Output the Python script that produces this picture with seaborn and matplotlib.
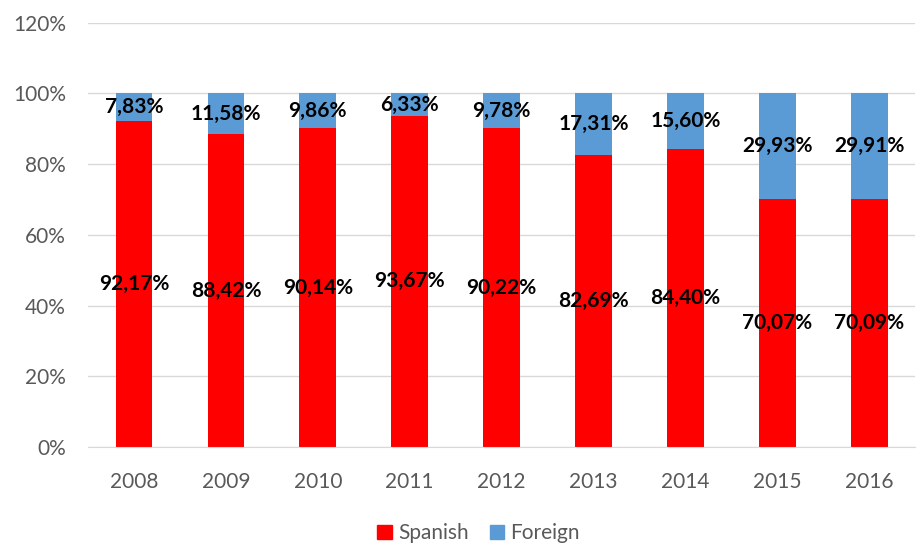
import seaborn as sns
import matplotlib.pyplot as plt
import pandas as pd
from matplotlib.patches import Patch

years = ["2008", "2009", "2010", "2011", "2012", "2013", "2014", "2015", "2016"]
spanish = [92.17, 88.42, 90.14, 93.67, 90.22, 82.69, 84.40, 70.07, 70.09]
foreign = [7.83, 11.58, 9.86, 6.33, 9.78, 17.31, 15.60, 29.93, 29.91]

red = "#FF0000"
blue = "#5B9BD5"

df = pd.DataFrame({"year": years, "spanish": spanish, "foreign": foreign})
df["total"] = df["spanish"] + df["foreign"]

sns.set_style("white")
plt.rcParams["font.family"] = ["Lato", "DejaVu Sans"]

fig = plt.figure(figsize=(9.17, 5.43), dpi=100)
ax = fig.add_axes([0.096, 0.177, 0.902, 0.781])

# stacked: full bar in blue, spanish part in red on top of it
sns.barplot(data=df, x="year", y="total", color=blue, width=0.4, ax=ax,
            saturation=1, linewidth=0)
sns.barplot(data=df, x="year", y="spanish", color=red, width=0.4, ax=ax,
            saturation=1, linewidth=0)

for i, (s, f) in enumerate(zip(spanish, foreign)):
    ax.text(i, s / 2, f"{s:.2f}%".replace(".", ","), ha="center", va="center",
            fontsize=15, fontweight="bold", color="black")
    ax.text(i, s + f / 2, f"{f:.2f}%".replace(".", ","), ha="center", va="center",
            fontsize=15, fontweight="bold", color="black")

ax.set_ylim(0, 120)
ax.set_yticks(range(0, 121, 20))
ax.set_yticklabels([f"{v}%" for v in range(0, 121, 20)])
ax.set_xlim(-0.5, len(years) - 0.5)
ax.yaxis.grid(True, color="#D9D9D9", linewidth=1)
ax.set_axisbelow(True)
for sp in ["top", "right", "left"]:
    ax.spines[sp].set_visible(False)
ax.spines["bottom"].set_color("#D9D9D9")
ax.tick_params(axis="both", colors="#595959", labelsize=15, length=0)
ax.tick_params(axis="y", pad=16)
ax.tick_params(axis="x", pad=18)
ax.set_xlabel("")
ax.set_ylabel("")

handles = [Patch(color=red, label="Spanish"), Patch(color=blue, label="Foreign")]
fig.legend(handles=handles, loc="lower center", bbox_to_anchor=(0.522, -0.035), ncol=2,
           frameon=False, fontsize=15, handlelength=0.7, handleheight=0.7,
           handletextpad=0.3, columnspacing=1.0, labelcolor="#595959")

fig.savefig("out.png", dpi=100)
